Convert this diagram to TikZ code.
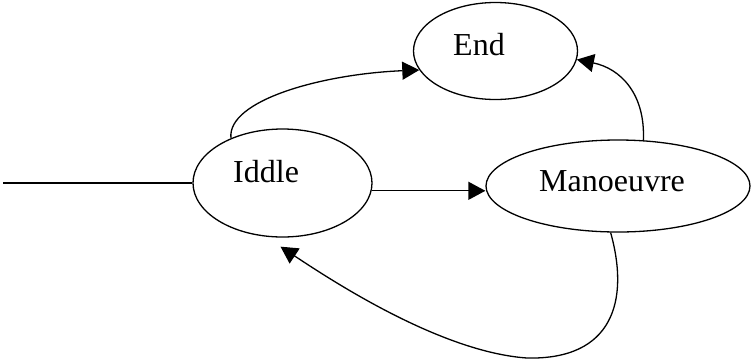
\documentclass[tikz,border=0pt]{standalone}
\usepackage{fontspec}
\setmainfont{Liberation Serif}
\usetikzlibrary{shapes.geometric,arrows.meta,calc}
\begin{document}
\begin{tikzpicture}[x=1pt,y=-1pt,
  state/.style={draw, ellipse, line width=1.3pt, inner sep=0pt},
  statelabel/.style={anchor=base west, inner sep=0pt, font=\fontsize{32}{38}\selectfont},
  edge/.style={line width=1.3pt},
  arc/.style={edge, -{Triangle[length=17pt,width=18pt]}}]
\useasboundingbox (0,0) rectangle (754,360);

% states
\node[state, minimum width=164pt, minimum height=97pt] (end) at (495.5,51) {};
\node[state, minimum width=179pt, minimum height=108pt] (iddle) at (282.5,183) {};
\node[state, minimum width=264pt, minimum height=92pt] (man) at (618,186) {};

% state names
\node[statelabel] (endtext) at (453,55) {End};
\node[statelabel] (iddletext) at (233,182) {Iddle};
\node[statelabel] (mantext) at (539,191) {Manoeuvre};

% incoming line and free points of the loop
\coordinate (start) at (3,183);
\coordinate (loopbottom) at (527,358);

\draw[edge] (start) -- (iddle.west);
\draw[arc] (iddle.-5) -- (iddle.-5 -| man.west);
\draw[arc] (iddle.139) .. controls +(-4,-38) and +(-97,4) .. (end.194);
\draw[arc] (man.61) .. controls +(2,-46) and +(44,9) .. (end.354);
\draw[arc] (man.261) .. controls +(19,68) and +(86,2) .. (loopbottom)
  .. controls +(-87,-6) and +(50,33) .. ($(iddle.south)+(-2,9)$);
\end{tikzpicture}
\end{document}
